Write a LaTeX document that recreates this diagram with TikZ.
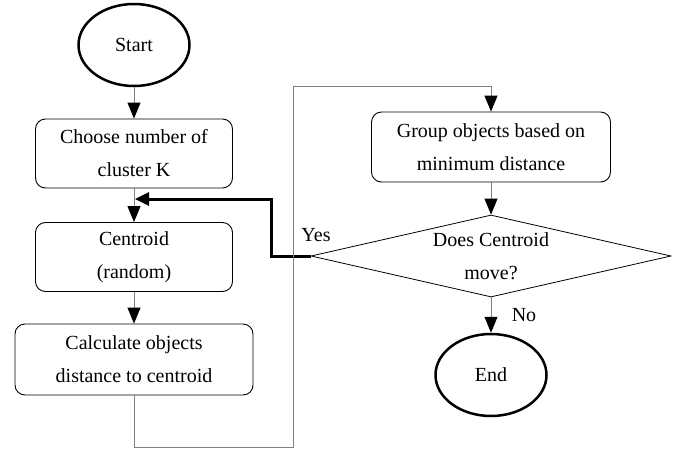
\documentclass[tikz,border=0pt]{standalone}
\usepackage{fontspec}
\setmainfont{Liberation Serif}
\usepackage{tikz}
\usetikzlibrary{shapes.geometric}
\usetikzlibrary{calc, arrows.meta}
\tikzset{
  fcnode/.style = {align=center, inner sep=0pt, text centered,
    font=\fontsize{20}{33}\selectfont},
  fc_e/.style = {fcnode, ellipse, draw=black, line width=2.5pt,
    minimum width=111pt, minimum height=82pt},% debut / fin
  fc_b/.style = {fcnode, rectangle, rounded corners=10pt, draw=black,
    line width=0.9pt, minimum width=197pt, minimum height=69pt},% etape
  fc_d/.style = {fcnode, diamond, aspect=4.4, draw=black,
    line width=0.8pt, minimum width=360pt, minimum height=82pt},% decision
  fc_l/.style = {draw=gray, line width=1pt,
    -{Triangle[length=16pt, width=13pt, color=black]}},% fleche
  fc_y/.style = {draw=black, line width=3pt,
    -{Triangle[length=14pt, width=13pt]}}% fleche oui
}
\begin{document}
\begin{tikzpicture}[x=1pt, y=-1pt
	%scale=0.7, transform shape
]
\useasboundingbox (0,0) rectangle (688,450);

\node[fc_e] (a1) at (134,45)    {Start};
\node[fc_b] (a2) at (134,153.5) {Choose number of\\cluster K};
\node[fc_b] (a3) at (134,257)   {Centroid\\(random)};
\node[fc_b, minimum width=238pt, minimum height=71pt] (a4) at (134,359.5) {Calculate objects\\distance to centroid};
\node[fc_b, minimum width=239pt, minimum height=70pt] (a5) at (491,147) {Group objects based on\\minimum distance};
\node[fc_d] (a6) at (491,256)   {Does Centroid\\move?};
\node[fc_e] (a7) at (491,375)   {End};

\coordinate (b1) at (293,447);
\coordinate (b2) at (293,86);
\coordinate (b3) at (135,199);
\coordinate (b4) at (271,256);

\draw[fc_y] (a6.west) -- (b4) |- (b3);
\draw[fc_l] (a1) -- (a2);
\draw[fc_l] (a2) -- (a3);
\draw[fc_l] (a3) -- (a4);
\draw[fc_l] (a4.south) |- (b1) -- (b2) -| (a5.north);
\draw[fc_l] (a5) -- (a6);
\draw[fc_l] (a6) -- (a7);

\node[fcnode] (l1) at (316,235) {Yes};
\node[fcnode] (l2) at (524,315) {No};
\end{tikzpicture}
\end{document}
